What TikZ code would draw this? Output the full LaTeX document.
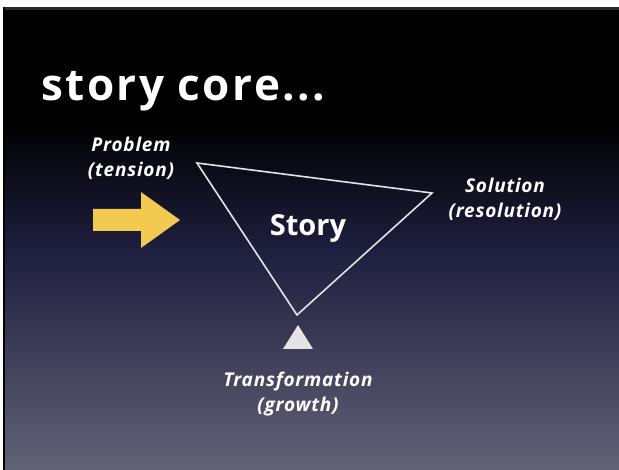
\documentclass[tikz,border=0pt]{standalone}
\usepackage{fontspec}
\setmainfont{Open Sans}
\definecolor{bgtop}{RGB}{0,0,0}
\definecolor{bgmid}{RGB}{30,30,62}
\definecolor{bgbot}{RGB}{98,98,118}
\definecolor{arrowyel}{RGB}{242,202,82}
\definecolor{frameline}{RGB}{42,42,42}
\definecolor{linegray}{RGB}{228,228,232}
\tikzset{
  lbl/.style={text=white, font=\bfseries\itshape\fontsize{19}{25}\selectfont\addfontfeature{LetterSpace=4}, align=center, inner sep=0pt},
  edge/.style={draw=linegray, line width=1.6pt, line join=miter}
}
\begin{document}
\begin{tikzpicture}[x=1pt,y=-1pt]
\useasboundingbox (0,0) rectangle (619,470);
\fill[white] (0,0) rectangle (619,470);
% slide background
\fill[bgtop] (3,7) rectangle (619,120);
\shade[top color=bgtop, bottom color=bgmid] (3,119.5) rectangle (619,250);
\shade[top color=bgmid, bottom color=bgbot] (3,249.5) rectangle (619,470);
\fill[frameline] (3,7) rectangle (619,10);
\fill[black] (3,7) rectangle (5,470);
% title
\node[anchor=base west, text=white, font=\bfseries\fontsize{44}{50}\selectfont\addfontfeature{LetterSpace=5.5}, inner sep=0pt] (title) at (41,101) {story core...};
% problem label
\node[lbl] (problem) at (131,158) {Problem\\(tension)};
% yellow arrow
\fill[arrowyel] (93,209) -- (141,209) -- (141,192) -- (180,220) -- (141,248) -- (141,231) -- (93,231) -- cycle;
% story triangle
\coordinate (P) at (197,163);
\coordinate (S) at (432,193);
\coordinate (T) at (297,315);
\draw[edge] (P) -- (S) -- (T) -- cycle;
\node[text=white, font=\bfseries\fontsize{29}{32}\selectfont, inner sep=0pt] (story) at (308,228) {Story};
% solution label
\node[lbl] (solution) at (505,199) {Solution\\(resolution)};
% transformation marker
\fill[linegray] (283,349) -- (313,349) -- (298,325) -- cycle;
\node[lbl] (transf) at (298,394) {Transformation\\(growth)};
\end{tikzpicture}
\end{document}
